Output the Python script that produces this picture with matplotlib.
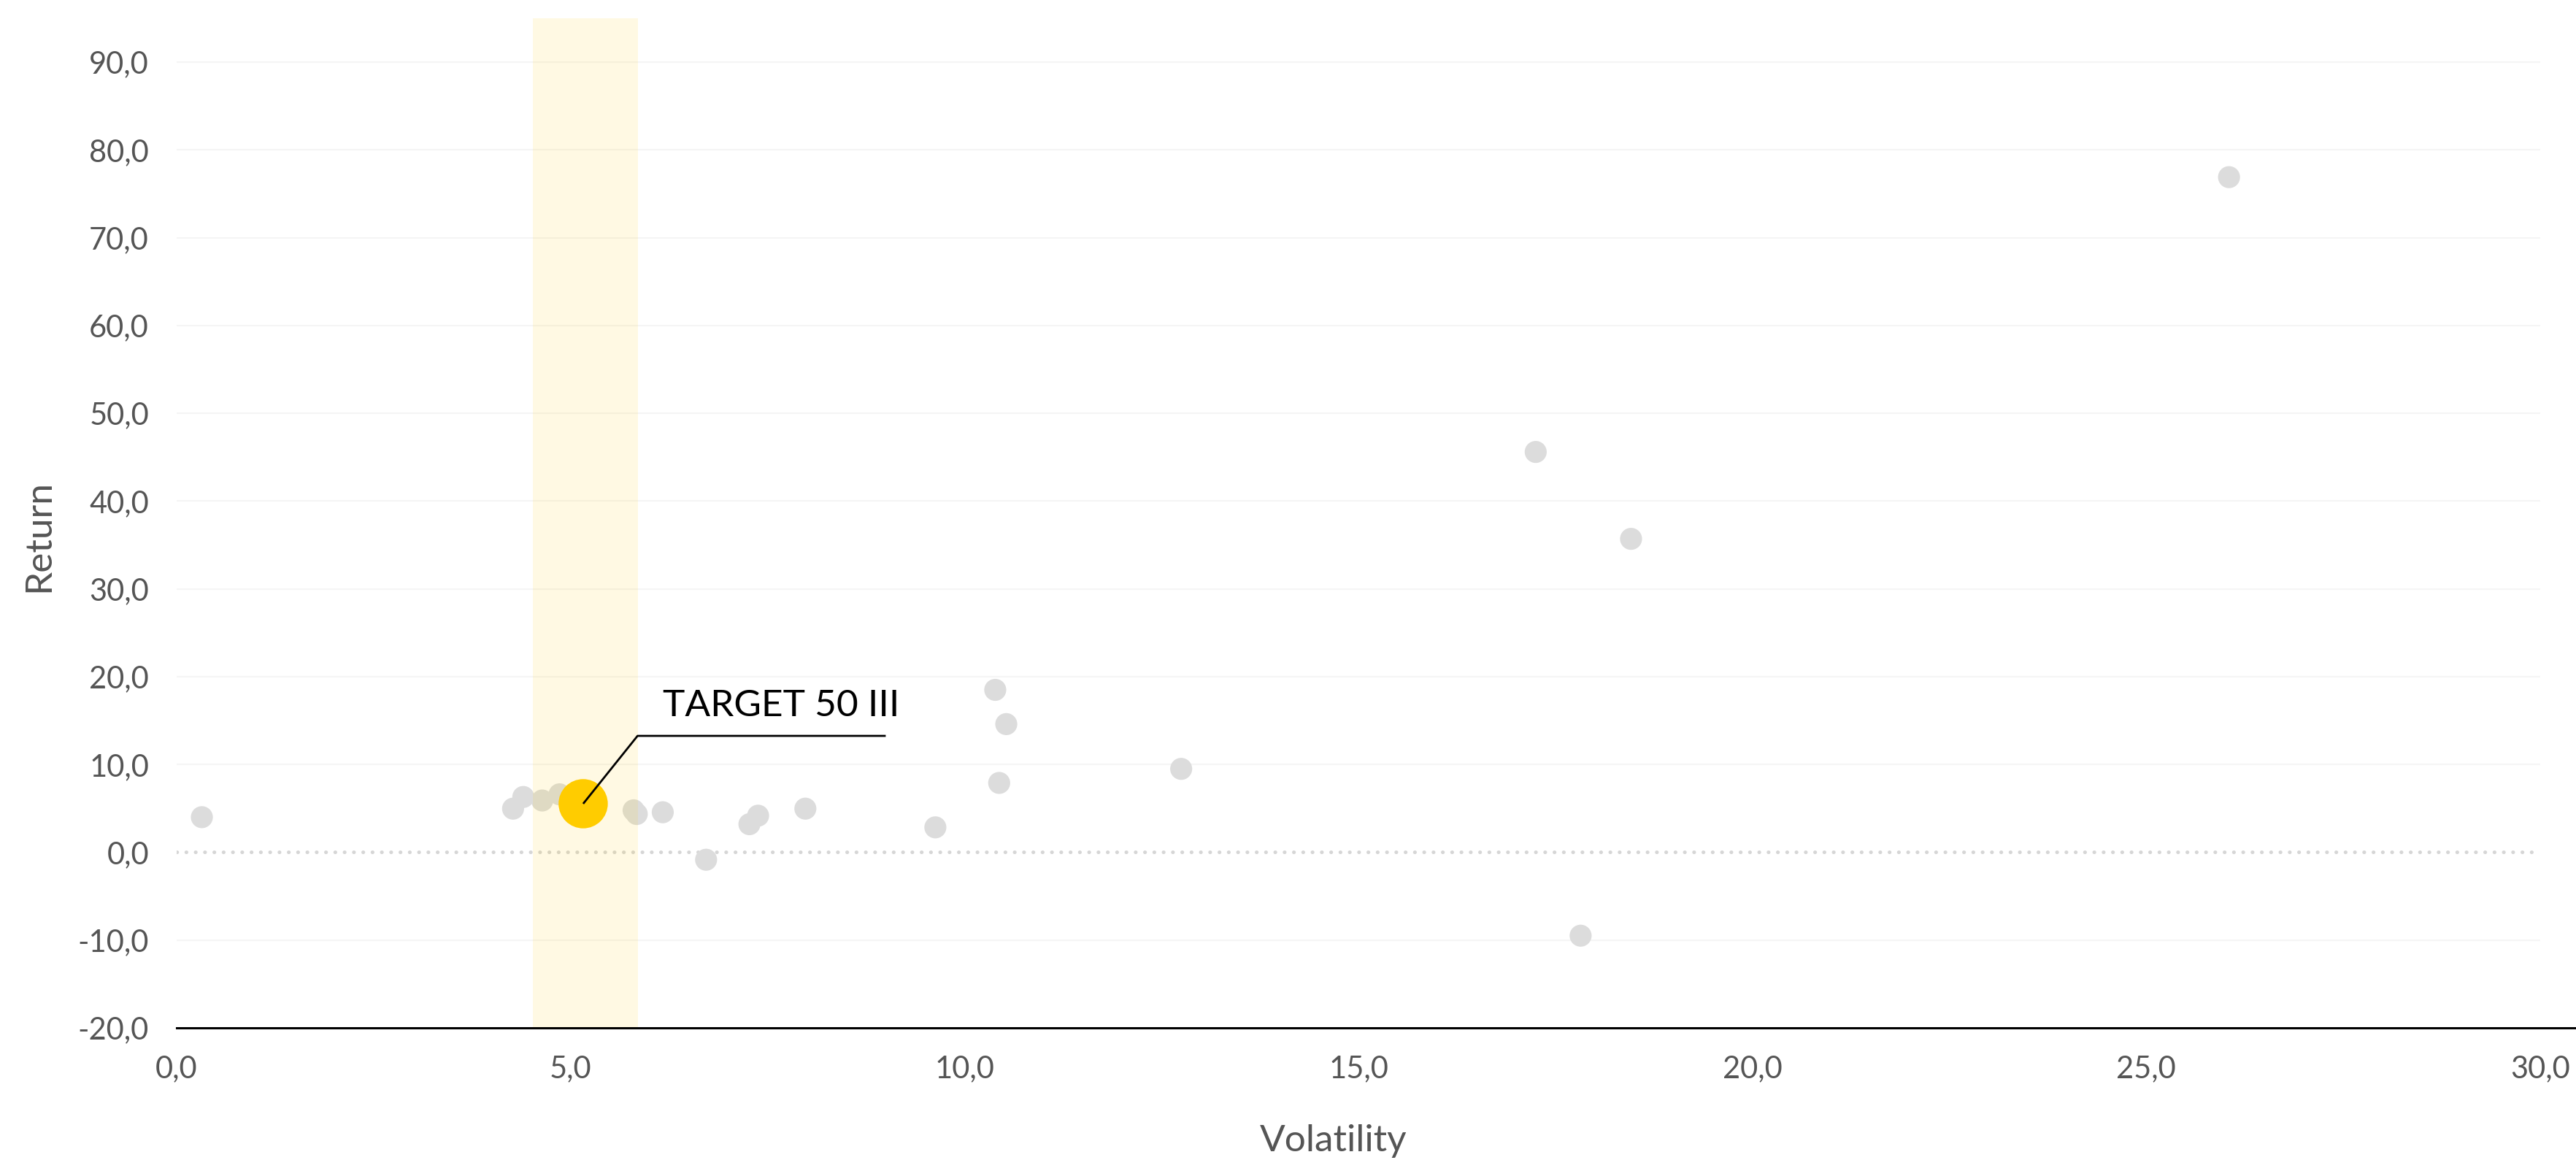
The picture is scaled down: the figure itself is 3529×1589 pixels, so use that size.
import matplotlib.pyplot as plt
from matplotlib.ticker import FuncFormatter

# peers (grey) -- volatility / return
peer_vol = [0.32, 4.27, 4.40, 4.64, 4.86, 5.80, 5.84, 6.17, 6.72, 7.27, 7.38,
            7.98, 9.63, 10.39, 10.53, 10.44, 12.75, 17.25, 18.46, 17.82, 26.05]
peer_ret = [4.0, 4.97, 6.3, 5.9, 6.6, 4.78, 4.36, 4.56, -0.85, 3.2, 4.17,
            4.97, 2.84, 18.5, 14.6, 7.9, 9.5, 45.6, 35.7, -9.5, 76.9]

# highlighted fund
target_name = "TARGET 50 III"
target_vol = 5.16
target_ret = 5.53

# volatility band around the fund
band_lo, band_hi = 4.52, 5.86

x_ticks = [0, 5, 10, 15, 20, 25, 30]
y_ticks = [-20, -10, 0, 10, 20, 30, 40, 50, 60, 70, 80, 90]

plt.rcParams["font.family"] = ["Lato", "DejaVu Sans"]

fig = plt.figure(figsize=(3529 / 200, 1589 / 200), dpi=200)
ax = fig.add_axes([242 / 3529, 1 - 1408 / 1589, (3480 - 242) / 3529, (1408 - 25) / 1589])

ax.set_xlim(0, 30)
ax.set_ylim(-20, 95)

# faint horizontal grid
for y in y_ticks:
    if y in (-20, 0):
        continue
    ax.axhline(y, color="#f5f5f5", lw=0.75, zorder=0)

# dotted zero line
ax.axhline(0, color="#d6d6d6", lw=1.8, linestyle=(0, (0.05, 2.5)),
           dash_capstyle="round", zorder=1)

ax.scatter(peer_vol, peer_ret, s=118, color="#dcdcdc", edgecolors="none", zorder=2)

ax.axvspan(band_lo, band_hi, color="#ffcc00", alpha=0.11, lw=0, zorder=3)

ax.scatter([target_vol], [target_ret], s=590, color="#ffcc00", edgecolors="none", zorder=4)

# annotation leader line
elbow_x, elbow_y, end_x = 5.85, 13.26, 9.0
ax.plot([target_vol, elbow_x, end_x], [target_ret, elbow_y, elbow_y],
        color="black", lw=1.0, zorder=5, solid_capstyle="butt")
ax.text(6.17, 16.7, target_name, fontsize=18.5, color="black",
        ha="left", va="center", zorder=6)

# bottom axis line, running a little past the plot
ax.plot([0, 1.016], [0, 0], transform=ax.transAxes, color="black",
        lw=1.1, clip_on=False, zorder=6)

for s in ax.spines.values():
    s.set_visible(False)

fmt = FuncFormatter(lambda v, p: f"{v:.1f}".replace(".", ","))
ax.set_xticks(x_ticks)
ax.set_yticks(y_ticks)
ax.xaxis.set_major_formatter(fmt)
ax.yaxis.set_major_formatter(fmt)
ax.tick_params(length=0, labelsize=15, labelcolor="#555555")
ax.tick_params(axis="y", pad=13.7)
ax.tick_params(axis="x", pad=13.3)

ax.set_xlabel("Volatility", fontsize=18.5, color="#555555", va="center")
ax.xaxis.set_label_coords(0.4895, -0.112)
ax.set_ylabel("Return", fontsize=18.5, color="#555555", va="center")
ax.yaxis.set_label_coords(-0.0584, 0.487)

plt.savefig("out.png", dpi=200, facecolor="white")
